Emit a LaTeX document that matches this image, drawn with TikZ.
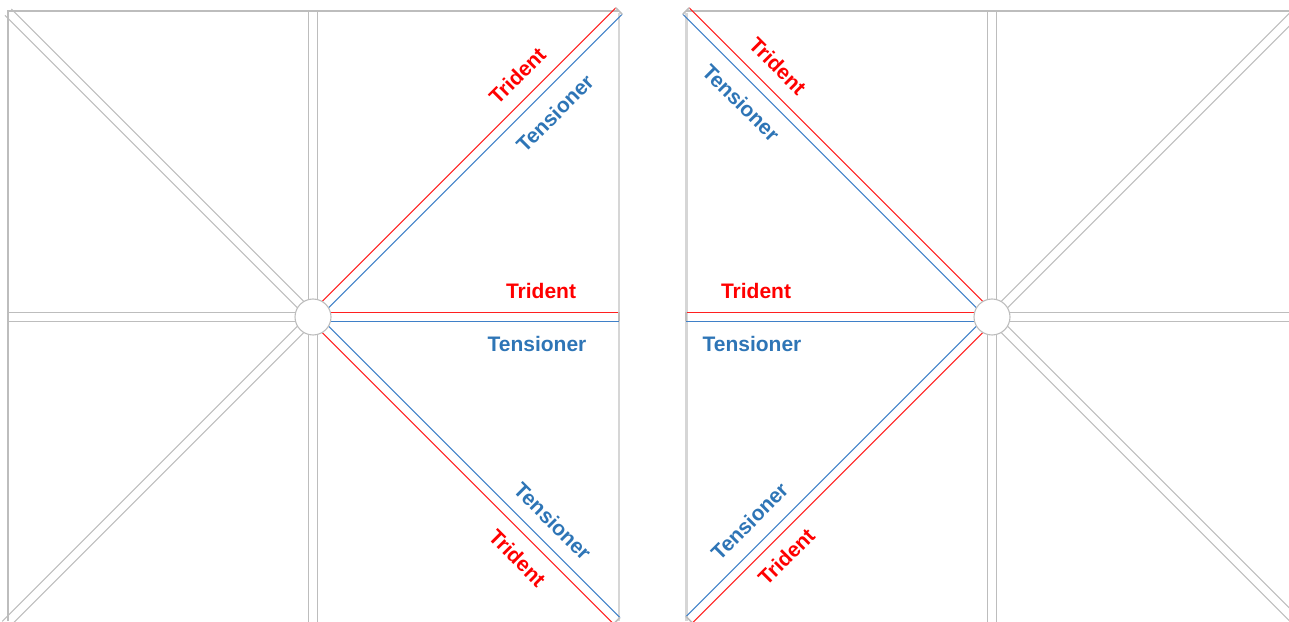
\documentclass[tikz,border=0pt]{standalone}
\usepackage{fontspec}
\setmainfont{Liberation Sans}
\usetikzlibrary{calc}
\definecolor{gl}{HTML}{BDBDBD}
\definecolor{gbar}{HTML}{D6D6D6}
\definecolor{rl}{HTML}{FF2020}
\definecolor{bl}{HTML}{3F80C8}
\definecolor{rt}{HTML}{FF0000}
\definecolor{bt}{HTML}{2E75B6}
\newcommand\graybeam[3]{%
  \begin{scope}[shift={(#1)},rotate=#2]
    \draw[gline] (17.4,4.5) -- (#3,4.5);
    \draw[gline] (17.4,-4.5) -- (#3,-4.5);
  \end{scope}}
\newcommand\colbeam[5]{%
  \begin{scope}[shift={(#1)},rotate=#2]
    \draw[draw=#4,line width=1.1pt] (17.4,4.5) -- (#3,4.5);
    \draw[draw=#5,line width=1.1pt] (17.4,-4.5) -- (#3,-4.5);
    \draw[gline,line width=1.6pt] (#3,4.5) -- (#3,-4.5);
  \end{scope}}
\begin{document}
\begin{tikzpicture}[x=1pt,y=1pt,
  gline/.style={draw=gl,line width=1.1pt},
  barline/.style={draw=gbar,line width=2.6pt},
  hubnode/.style={circle,draw=gl,line width=1.1pt,fill=white,minimum size=36pt,inner sep=0pt},
  lbl/.style={inner sep=0pt,font=\fontsize{21}{21}\selectfont\bfseries},
  tri/.style={lbl,text=rt},
  ten/.style={lbl,text=bt}]
\useasboundingbox (0,0) rectangle (1289,621);
\coordinate (cL) at (313,304);
\coordinate (cR) at (992,304);
% frames
\draw[gline] (8,0) -- (8,610) -- (619,610);
\draw[barline] (619,608) -- (619,0);
\draw[gline] (686,610) -- (1289,610);
\draw[barline] (686.5,608) -- (686.5,0);
% left panel beams
\graybeam{cL}{90}{306}
\graybeam{cL}{270}{310}
\graybeam{cL}{180}{305}
\graybeam{cL}{135}{431}
\graybeam{cL}{225}{435}
\colbeam{cL}{45}{432.7}{rl}{bl}
\colbeam{cL}{0}{306}{rl}{bl}
\colbeam{cL}{-45}{429.6}{bl}{rl}
% right panel beams
\graybeam{cR}{90}{306}
\graybeam{cR}{270}{310}
\graybeam{cR}{0}{300}
\graybeam{cR}{45}{425}
\graybeam{cR}{-45}{425}
\colbeam{cR}{135}{432.7}{bl}{rl}
\colbeam{cR}{180}{306}{bl}{rl}
\colbeam{cR}{225}{428.2}{rl}{bl}
% hubs
\node[hubnode] (hubL) at (cL) {};
\node[hubnode] (hubR) at (cR) {};
% left labels
\node[tri,rotate=45]  (l1) at ($(cL)+(45:315)+(135:26)$) {Trident};
\node[ten,rotate=45]  (l2) at ($(cL)+(45:315)+(-45:27)$) {Tensioner};
\node[tri]            (l3) at ($(cL)+(228,26)$) {Trident};
\node[ten]            (l4) at ($(cL)+(224,-27)$) {Tensioner};
\node[ten,rotate=-45] (l5) at ($(cL)+(-45:314)+(45:25)$) {Tensioner};
\node[tri,rotate=-45] (l6) at ($(cL)+(-45:315)+(225:26)$) {Trident};
% right labels
\node[tri,rotate=-45] (r1) at ($(cR)+(135:329)+(45:26)$) {Trident};
\node[ten,rotate=-45] (r2) at ($(cR)+(135:329)+(225:26)$) {Tensioner};
\node[tri]            (r3) at ($(cR)+(-236,26)$) {Trident};
\node[ten]            (r4) at ($(cR)+(-240,-27)$) {Tensioner};
\node[ten,rotate=45]  (r5) at ($(cR)+(225:316)+(135:27)$) {Tensioner};
\node[tri,rotate=45]  (r6) at ($(cR)+(225:315)+(-45:24)$) {Trident};
\end{tikzpicture}
\end{document}
